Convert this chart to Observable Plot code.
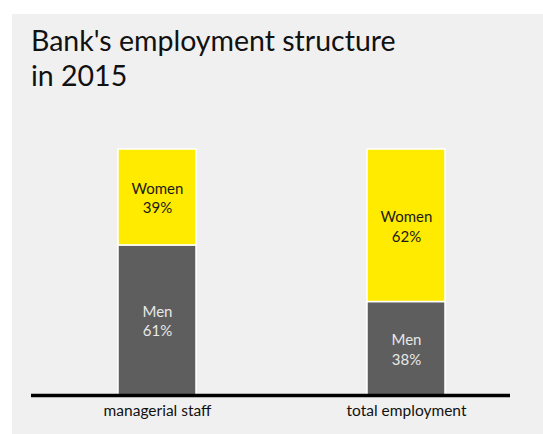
<!DOCTYPE html>
<html>
<head>
<meta charset="utf-8">
<script src="https://cdn.jsdelivr.net/npm/d3@7"></script>
<script src="https://cdn.jsdelivr.net/npm/@observablehq/plot@0.6"></script>
<style>
  html, body { margin: 0; padding: 0; background: #ffffff; }
  #panel { position: absolute; left: 12px; top: 14px; width: 531px; height: 420px; background: #f0f0f0; overflow: hidden; }
  #title { position: absolute; left: 19px; top: 9px; font-family: Lato, sans-serif; font-size: 28.5px; line-height: 35px; color: #111; font-weight: 400; }
  #chart { position: absolute; left: 0; top: 0; }
</style>
</head>
<body>
<div id="panel">
  <div id="chart"></div>
  <div id="title">Bank's employment structure<br>in 2015</div>
</div>
<script>
const categories = ["managerial staff", "total employment"];
const groups = ["Men", "Women"];
const men = [61, 38];
const women = [39, 62];
const groupColors = ["#5e5e5e", "#ffeb00"];
const labelColors = ["#e8e8e8", "#1a1a1a"];

const rows = [];
categories.forEach((c, i) => {
  rows.push({category: c, group: groups[0], value: men[i]});
  rows.push({category: c, group: groups[1], value: women[i]});
});
const fillOf = d => groupColors[groups.indexOf(d.group)];
const textFillOf = d => labelColors[groups.indexOf(d.group)];

const chart = Plot.plot({
  width: 531,
  height: 420,
  marginTop: 135,
  marginBottom: 39,
  marginLeft: 19,
  marginRight: 33,
  style: {background: "transparent", fontFamily: "Lato, sans-serif"},
  x: {domain: categories, paddingInner: 0.6874, paddingOuter: 0.3026, align: 0.57, label: null, axis: null},
  y: {domain: [0, 100], axis: null},
  color: {type: "identity"},
  marks: [
    Plot.barY(rows, {x: "category", y: "value", z: "group", fill: fillOf, stroke: "#ffffff", strokeWidth: 1.5, order: groups}),
    Plot.text(rows, Plot.stackY({x: "category", y: "value", z: "group", order: groups,
      text: d => `${d.group}\n${d.value}%`, fill: textFillOf, fontSize: 15, lineHeight: 1.3})),
    Plot.ruleY([0], {stroke: "#000000", strokeWidth: 3.5}),
    Plot.text(categories, {x: d => d, text: d => d, frameAnchor: "bottom", dy: 20, fontSize: 15.5, fill: "#111"})
  ]
});
document.getElementById("chart").appendChild(chart);
</script>
</body>
</html>
